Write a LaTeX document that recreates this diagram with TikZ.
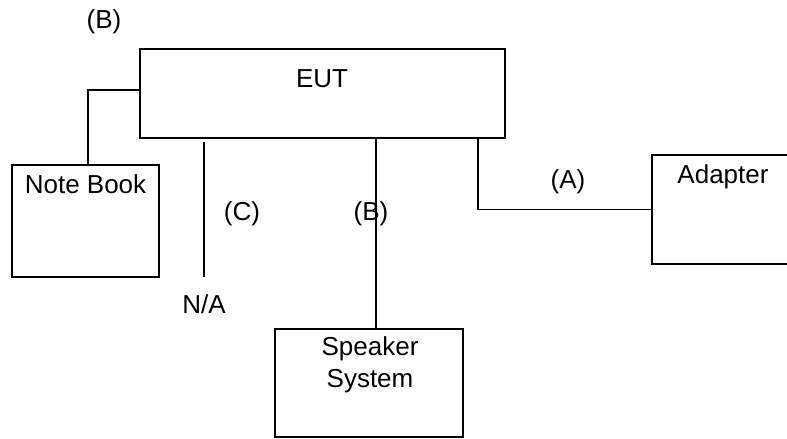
\documentclass[tikz,border=0pt]{standalone}
\usepackage{fontspec}
\setmainfont{Liberation Sans}
\begin{document}
\begin{tikzpicture}[x=1pt,y=-1pt,
  box/.style={draw,line width=1.7pt,inner sep=0pt},
  wire/.style={line width=1.7pt},
  txt/.style={anchor=base,inner sep=0pt,font=\fontsize{26}{31}\selectfont}]
\path[use as bounding box,clip] (0,0) rectangle (787,439);
\node[box,minimum width=365pt,minimum height=89pt] (eut) at (322.5,93.5) {};
\node[box,minimum width=147pt,minimum height=112pt] (nb) at (85.5,221) {};
\node[box,minimum width=140pt,minimum height=109pt] (ad) at (722,209.5) {};
\node[box,minimum width=188pt,minimum height=108pt] (sp) at (369,383) {};
% texts
\node[txt] (teut) at (322,87) {EUT};
\node[txt] (tnb) at (85.5,193) {Note Book};
\node[txt] (tad) at (723,183) {Adapter};
\node[txt] (tsp1) at (370,355) {Speaker};
\node[txt] (tsp2) at (370,387) {System};
\node[txt] (lb1) at (104,28) {(B)};
\node[txt] (lc) at (242,220) {(C)};
\node[txt] (lb2) at (371,220) {(B)};
\node[txt] (la) at (568,188) {(A)};
\node[txt] (na) at (204,313) {N/A};
% connectors
\draw[wire] ([yshift=3.5pt]eut.west) -| ([xshift=2.5pt]nb.north);
\draw[wire] ([xshift=7pt]sp.north |- eut.south) -- ([xshift=7pt]sp.north);
\coordinate (a0) at (478,138);
\draw[wire] (a0) |- (ad.west);
\coordinate (c0) at (204,142);
\coordinate (c1) at (204,277);
\draw[wire] (c0) -- (c1);
\end{tikzpicture}
\end{document}
